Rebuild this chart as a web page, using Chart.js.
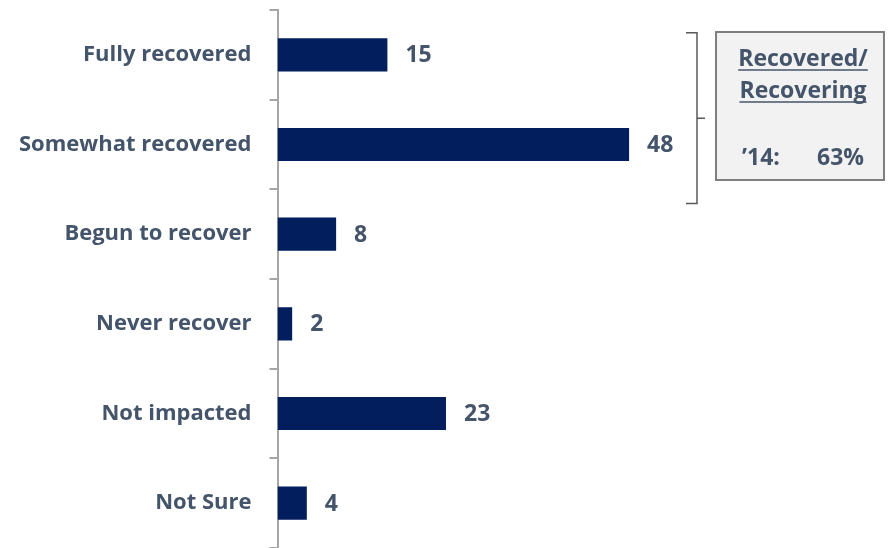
<!DOCTYPE html>
<html>
<head>
<meta charset="utf-8">
<script src="https://cdn.jsdelivr.net/npm/chart.js@4/dist/chart.umd.min.js"></script>
<style>
  html, body { margin: 0; padding: 0; background: #fff; }
  #wrap { width: 889px; height: 548px; position: relative; }
</style>
</head>
<body>
<div id="wrap"><canvas id="chart" width="889" height="548"></canvas></div>
<script>
// data
const categories = ['Fully recovered', 'Somewhat recovered', 'Begun to recover', 'Never recover', 'Not impacted', 'Not Sure'];
const values = [15, 48, 8, 2, 23, 4];
const boxTitle = ['Recovered/', 'Recovering'];
const boxYear = '\u201914:';
const boxValue = '63%';

const NAVY = '#021E5C';
const SLATE = '#44546A';
const FONT = "'Open Sans', sans-serif";

// value labels at the end of each bar
const valueLabels = {
    id: 'valueLabels',
    afterDatasetsDraw(chart) {
        const ctx = chart.ctx;
        const meta = chart.getDatasetMeta(0);
        ctx.save();
        ctx.fillStyle = SLATE;
        ctx.font = "bold 23px " + FONT;
        ctx.textBaseline = 'middle';
        ctx.textAlign = 'left';
        meta.data.forEach((bar, i) => {
            ctx.fillText(values[i], bar.x + 18, bar.y + 1);
        });
        ctx.restore();
    }
};

// bracket over first two rows and the summary box
const summaryBox = {
    id: 'summaryBox',
    afterDraw(chart) {
        const ctx = chart.ctx;
        const y = chart.scales.y;
        const top = y.getPixelForValue(0) - 22;
        const bottom = y.getPixelForValue(1) + 59;
        const bx = 697;
        ctx.save();
        ctx.strokeStyle = '#595959';
        ctx.lineWidth = 1.5;
        ctx.beginPath();
        ctx.moveTo(686, top);
        ctx.lineTo(bx, top);
        ctx.lineTo(bx, bottom);
        ctx.lineTo(686, bottom);
        ctx.moveTo(bx, (top + bottom) / 2);
        ctx.lineTo(bx + 8, (top + bottom) / 2);
        ctx.stroke();

        // box
        ctx.fillStyle = '#F2F2F2';
        ctx.fillRect(716, 32, 168, 148);
        ctx.strokeStyle = '#7F7F7F';
        ctx.lineWidth = 2;
        ctx.strokeRect(716, 32, 168, 148);

        ctx.fillStyle = SLATE;
        ctx.strokeStyle = SLATE;
        ctx.font = "bold 23px " + FONT;
        ctx.textAlign = 'center';
        ctx.textBaseline = 'alphabetic';
        ctx.lineWidth = 1.5;
        boxTitle.forEach((t, i) => {
            const ty = 66 + i * 32;
            ctx.fillText(t, 803, ty);
            const w = ctx.measureText(t).width;
            ctx.beginPath();
            ctx.moveTo(803 - w / 2, ty + 4);
            ctx.lineTo(803 + w / 2, ty + 4);
            ctx.stroke();
        });
        ctx.textAlign = 'left';
        ctx.fillText(boxYear, 742, 165);
        ctx.textAlign = 'right';
        ctx.fillText(boxValue, 864, 165);
        ctx.restore();
    }
};

new Chart(document.getElementById('chart'), {
    type: 'bar',
    data: {
        labels: categories,
        datasets: [{
            data: values,
            backgroundColor: NAVY,
            categoryPercentage: 1,
            barPercentage: 0.37
        }]
    },
    options: {
        indexAxis: 'y',
        responsive: false,
        animation: false,
        layout: { padding: { top: 10, right: 172, bottom: 0, left: 1 } },
        plugins: {
            legend: { display: false },
            tooltip: { enabled: false }
        },
        scales: {
            x: {
                display: false,
                min: 0,
                max: 60
            },
            y: {
                afterFit(scale) {
                    scale.paddingTop = 0;
                    scale.paddingBottom = 0;
                },
                grid: {
                    offset: true,
                    drawOnChartArea: false,
                    tickLength: 8,
                    color: '#A6A6A6',
                    lineWidth: 2
                },
                border: { color: '#A6A6A6', width: 2 },
                ticks: {
                    color: SLATE,
                    padding: 18,
                    font: { family: FONT, size: 22, weight: 'bold' }
                }
            }
        }
    },
    plugins: [valueLabels, summaryBox]
});
</script>
</body>
</html>
